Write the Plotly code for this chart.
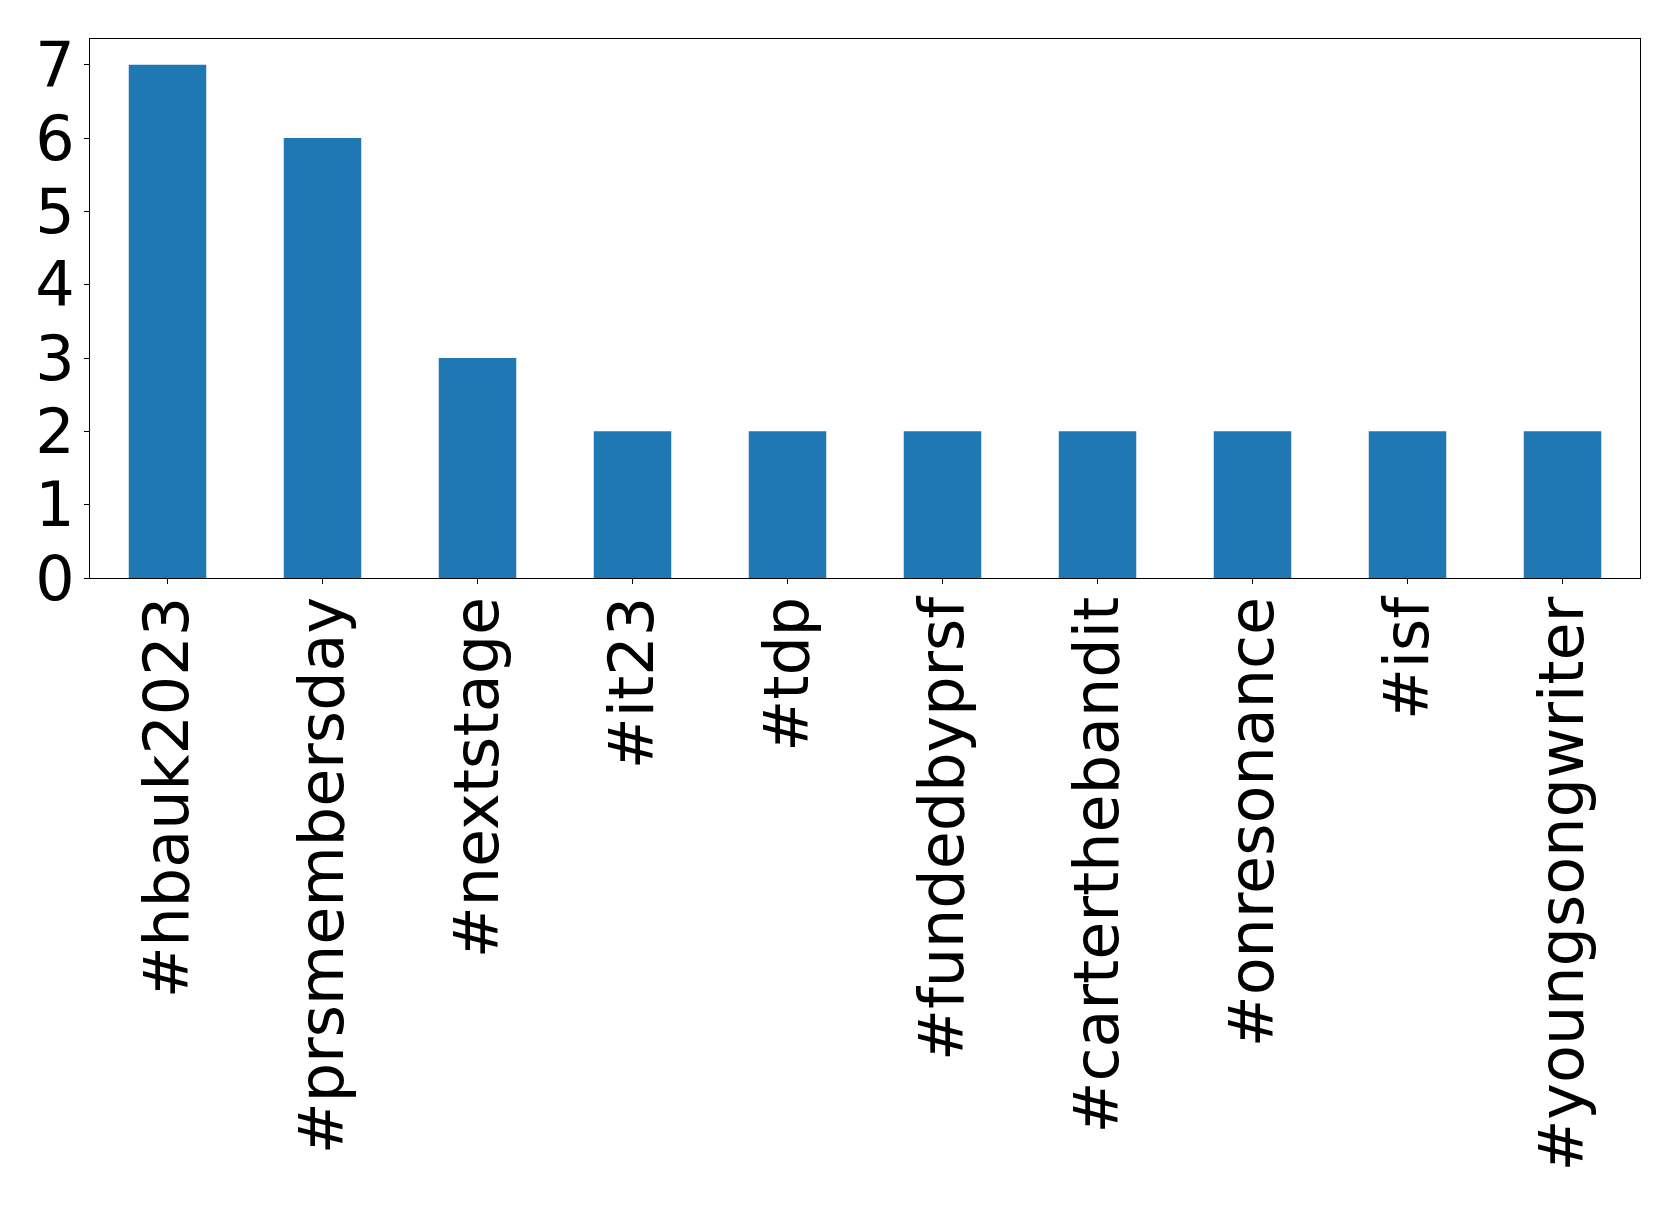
import plotly.graph_objects as go

categories = ["#hbauk2023", "#prsmembersday", "#nextstage", "#it23", "#tdp",
              "#fundedbyprsf", "#carterthebandit", "#onresonance", "#isf", "#youngsongwriter"]
counts = [7, 6, 3, 2, 2, 2, 2, 2, 2, 2]

fig = go.Figure(go.Bar(x=list(range(len(categories))), y=counts, width=0.5,
                       marker=dict(color="#1f77b4", line=dict(width=0))))

font = dict(family="DejaVu Sans", size=62, color="black")
# page body has an 8px default margin, so the figure is offset by 8px
fig.update_layout(
    width=1671, height=1199,
    margin=dict(l=82, r=39, t=31, b=629, autoexpand=False),
    paper_bgcolor="white", plot_bgcolor="white",
    showlegend=False,
    font=font,
)
fig.update_xaxes(
    range=[-0.5, len(categories) - 0.5],
    tickmode="array", tickvals=list(range(len(categories))), ticktext=categories,
    tickangle=-90, ticks="outside", ticklen=5, tickwidth=1, tickcolor="black",
    showline=True, linecolor="black", linewidth=1, mirror=True,
    showgrid=False, zeroline=False, tickfont=font, ticklabelstandoff=-12,
)
fig.update_yaxes(
    range=[0, 7.35], tickmode="array", tickvals=list(range(8)),
    ticks="outside", ticklen=5, tickwidth=1, tickcolor="black",
    showline=True, linecolor="black", linewidth=1, mirror=True,
    showgrid=False, zeroline=False, tickfont=font, ticklabelstandoff=-3,
)
fig.write_html("out.html")
